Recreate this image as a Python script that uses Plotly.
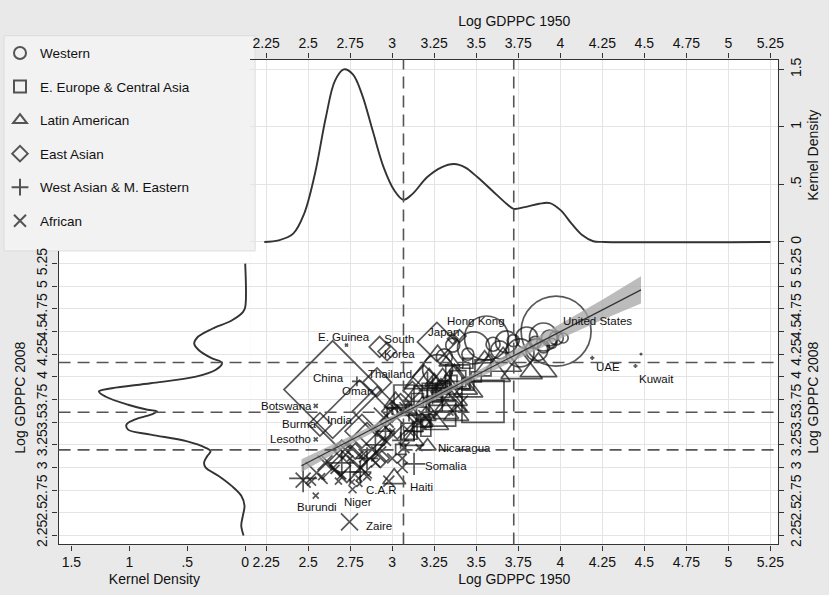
import plotly.graph_objects as go

W, H = 829, 595

# ---------------- data ----------------
# kernel density of Log GDPPC 1950 (top panel)
top_x = [2.239, 2.325, 2.411, 2.476, 2.540, 2.605, 2.659, 2.712, 2.766, 2.820, 2.884, 2.949, 3.013, 3.067,
         3.121, 3.207, 3.293, 3.368, 3.433, 3.508, 3.594, 3.680, 3.723, 3.788, 3.874, 3.938, 4.003, 4.067,
         4.132, 4.196, 4.261, 5.25]
top_d = [0, 0.014, 0.072, 0.245, 0.591, 1.082, 1.40, 1.50, 1.456, 1.283, 0.966, 0.649, 0.447, 0.366,
         0.418, 0.562, 0.649, 0.678, 0.649, 0.562, 0.447, 0.332, 0.288, 0.303, 0.332, 0.338, 0.274, 0.159,
         0.058, 0.006, 0, 0]

# kernel density of Log GDPPC 2008 (left panel)
left_y = [5.25, 4.768, 4.714, 4.622, 4.531, 4.440, 4.367, 4.294, 4.203, 4.155, 4.075, 4.002, 3.929, 3.874,
          3.838, 3.783, 3.692, 3.637, 3.619, 3.582, 3.527, 3.473, 3.418, 3.363, 3.290, 3.217, 3.181, 3.126,
          3.053, 2.998, 2.907, 2.797, 2.688, 2.579, 2.469, 2.360, 2.250]
left_d = [0, 0, 0.02, 0.117, 0.285, 0.41, 0.44, 0.40, 0.285, 0.20, 0.257, 0.425, 0.816, 1.15,
          1.263, 1.207, 1.011, 0.844, 0.76, 0.816, 0.955, 1.025, 1.011, 0.816, 0.508, 0.341, 0.299, 0.327,
          0.355, 0.341, 0.229, 0.117, 0.034, 0.006, 0.02, 0.034, 0.014]

# cut-offs (density minima)
cut_x = [3.067, 3.723]
cut_y = [4.158, 3.61, 3.194]

# regression fit and confidence band
fit_x = [2.46, 4.48]
fit_y = [3.02, 4.96]
band_x = [2.46, 2.8, 3.1, 3.4, 3.7, 4.0, 4.25, 4.48]
band_lo = [2.95, 3.30, 3.60, 3.885, 4.155, 4.42, 4.63, 4.81]
band_hi = [3.09, 3.39, 3.665, 3.955, 4.265, 4.58, 4.85, 5.11]

# Western
w_x = [3.975, 3.561, 3.484, 3.68, 3.80, 3.90, 3.935, 3.976, 4.017, 3.27, 3.31, 3.86, 3.76, 3.64, 3.72,
       3.85, 3.60, 3.95, 3.45, 3.36, 3.90]
w_y = [4.505, 4.429, 4.319, 4.385, 4.429, 4.44, 4.429, 4.429, 4.429, 4.08, 4.22, 4.297, 4.264, 4.297, 4.40,
       4.38, 4.36, 4.37, 4.25, 4.35, 4.33]
w_s = [70, 44, 32, 22, 22, 28, 16, 14, 10, 30, 16, 22, 28, 18, 12, 12, 14, 10, 12, 14, 12]
w_n = ["United States"] + [""] * 20

# E. Europe & Central Asia
ee_x = [3.54, 3.39, 3.54, 3.39, 3.07, 3.22, 3.00, 3.30, 3.25, 3.10, 3.35, 3.45, 3.30, 3.20, 3.15, 3.20,
        3.05, 3.10, 3.25, 3.30, 3.45, 3.50, 3.18, 3.15]
ee_y = [3.73, 4.00, 4.10, 3.98, 3.80, 3.85, 3.60, 3.60, 3.70, 3.40, 3.95, 4.15, 3.85, 3.50, 3.45, 3.40,
        3.20, 3.35, 3.80, 3.90, 3.92, 4.00, 3.60, 3.75]
ee_s = [42, 24, 16, 16, 20, 14, 10, 26, 16, 16, 12, 10, 14, 10, 10, 10, 10, 10, 14, 10, 12, 10, 12, 12]
ee_n = [""] * 24

# Latin American
la_x = [3.58, 3.77, 3.87, 3.66, 3.27, 3.22, 3.37, 3.33, 3.35, 3.18, 3.26, 3.20, 3.32, 3.12, 3.18, 3.29,
        3.25, 3.38, 3.02, 3.10, 3.55, 3.34, 3.21, 3.012, 3.45, 3.30]
la_y = [4.05, 4.08, 4.09, 4.15, 4.03, 3.85, 3.92, 3.78, 3.70, 3.65, 3.48, 3.57, 3.60, 3.30, 3.50, 3.88,
        3.95, 3.58, 3.72, 3.62, 4.20, 4.17, 3.235, 2.876, 3.85, 3.95]
la_s = [36, 36, 32, 32, 58, 44, 40, 34, 28, 24, 22, 18, 22, 20, 18, 18, 16, 22, 20, 16, 16, 18, 15, 20, 26, 26]
la_n = [""] * 22 + ["Nicaragua", "Haiti", "", ""]

# East Asian
ea_x = [2.646, 2.805, 3.266, 2.925, 2.97, 2.91, 2.91, 3.03, 2.82, 2.57, 3.19, 3.40, 3.36, 2.73, 2.85, 3.00,
        2.69, 2.70, 2.95, 2.93, 2.78, 3.05, 3.12]
ea_y = [3.86, 3.475, 4.385, 4.33, 4.28, 3.62, 3.94, 3.50, 3.40, 3.475, 4.00, 4.45, 4.42, 3.05, 3.28, 3.62,
        3.02, 3.20, 3.38, 3.10, 3.18, 3.70, 3.85]
ea_s = [75, 68, 30, 16, 14, 38, 22, 26, 26, 18, 18, 10, 8, 30, 30, 16, 16, 14, 12, 14, 12, 16, 14]
ea_n = ["China", "India", "Japan", "South<br>Korea", "", "", "Thailand", "", "", "Burma", "", "Hong Kong"] + [""] * 11

# West Asian & M. Eastern
wa_x = [3.21, 3.24, 3.13, 3.35, 2.81, 2.96, 3.10, 3.00, 3.30, 3.13, 2.79, 4.19, 4.447, 4.48, 3.40, 2.47,
        2.70, 2.85, 2.75, 2.90, 3.05]
wa_y = [3.90, 3.85, 3.40, 3.95, 2.95, 3.40, 3.60, 3.65, 3.75, 3.04, 3.95, 4.21, 4.12, 4.25, 4.10, 2.88,
        3.05, 3.10, 2.95, 3.25, 3.30]
wa_s = [20, 20, 14, 14, 16, 14, 12, 9, 9, 16, 7, 3, 3, 2, 5, 20, 18, 16, 16, 14, 12]
wa_n = [""] * 9 + ["Somalia", "Oman", "UAE", "Kuwait"] + [""] * 8

# African
af_x = [2.746, 2.545, 2.764, 2.805, 2.545, 2.545, 2.728, 2.55, 2.47, 2.65, 2.88, 2.81, 2.60, 2.84, 2.92,
        3.07, 3.00, 3.20, 3.16, 3.07, 2.98, 3.06, 3.10, 2.83, 2.52, 2.66, 2.70, 3.06, 2.58, 2.85, 2.68,
        2.80, 2.76, 2.75, 3.00, 3.40, 3.35, 3.35, 3.40, 2.95, 3.16, 2.90, 2.72, 2.96]
af_y = [2.40, 2.69, 2.76, 2.82, 3.31, 3.68, 4.35, 2.94, 2.86, 3.00, 3.20, 3.00, 3.05, 2.95, 3.15,
        3.22, 3.10, 3.55, 3.50, 3.67, 2.85, 3.00, 3.40, 3.15, 2.85, 2.98, 2.92, 3.10, 2.90, 2.90, 2.85,
        2.88, 2.84, 3.10, 3.40, 3.80, 4.05, 3.60, 3.70, 3.55, 3.22, 3.05, 3.20, 3.30]
af_s = [17, 6, 8, 6, 4, 4, 3, 22, 15, 24, 26, 15, 15, 13, 15, 11, 10, 15, 15, 9, 11, 11, 10, 10, 9, 9, 9,
        9, 7, 8, 7, 6, 6, 6, 6, 5, 3, 5, 17, 20, 7, 9, 11, 11]
af_n = ["Zaire", "Burundi", "Niger", "C.A.R", "Lesotho", "Botswana", "E. Guinea"] + [""] * 37

x_ticks = [2.25, 2.5, 2.75, 3, 3.25, 3.5, 3.75, 4, 4.25, 4.5, 4.75, 5, 5.25]
x_tick_text = ["2.25", "2.5", "2.75", "3", "3.25", "3.5", "3.75", "4", "4.25", "4.5", "4.75", "5", "5.25"]
dens_ticks = [0, 0.5, 1, 1.5]
dens_tick_text = ["0", ".5", "1", "1.5"]

# ---------------- style ----------------
INK = "#111111"
FONT = "Liberation Sans Narrow, Liberation Sans, Arial, sans-serif"
FONT2 = "Liberation Sans, Arial, sans-serif"

def px_x(p):
    return p / W

def px_y(p):
    return 1 - p / H

main_xd = [px_x(252), px_x(784)]
main_yd = [px_y(546), px_y(250)]
top_yd = [px_y(250), px_y(57)]
left_xd = [px_x(59), px_x(252)]

fig = go.Figure()

groups = [
    ("Western", "circle-open", w_x, w_y, w_s, w_n),
    ("E. Europe & Central Asia", "square-open", ee_x, ee_y, ee_s, ee_n),
    ("Latin American", "triangle-up-open", la_x, la_y, la_s, la_n),
    ("East Asian", "diamond-open", ea_x, ea_y, ea_s, ea_n),
    ("West Asian & M. Eastern", "cross-thin", wa_x, wa_y, wa_s, wa_n),
    ("African", "x-thin", af_x, af_y, af_s, af_n),
]

for name, sym, xs, ys, ss, ns in groups:
    fig.add_trace(go.Scatter(
        x=xs, y=ys, mode="markers", name=name, legendgroup=name,
        marker=dict(symbol=sym, size=ss, color=INK, line=dict(width=1.7, color=INK)),
        xaxis="x", yaxis="y", showlegend=True,
    ))

# confidence band and fitted line
fig.add_trace(go.Scatter(
    x=band_x + band_x[::-1], y=band_hi + band_lo[::-1], mode="lines", fill="toself",
    fillcolor="rgba(165,165,165,0.75)", line=dict(width=0), showlegend=False,
    hoverinfo="skip", xaxis="x", yaxis="y"))
fig.add_trace(go.Scatter(
    x=fit_x, y=fit_y, mode="lines", line=dict(color="#333", width=1.2),
    showlegend=False, xaxis="x", yaxis="y"))

# densities
fig.add_trace(go.Scatter(x=top_x, y=top_d, mode="lines", line=dict(color="#333", width=1.9, shape="spline"),
                         showlegend=False, xaxis="x2", yaxis="y2"))
fig.add_trace(go.Scatter(x=left_d, y=left_y, mode="lines", line=dict(color="#333", width=1.9, shape="spline"),
                         showlegend=False, xaxis="x3", yaxis="y3"))

# country labels
label_style = {
    "United States": ("left", 5, 10), "E. Guinea": ("center", -2, 8), "South<br>Korea": ("left", 2, 0),
    "Thailand": ("left", -11, 8), "Oman": ("center", 1, -10), "Botswana": ("right", -2, 0),
    "Burma": ("right", -2, 0), "India": ("center", -19, 4), "Lesotho": ("right", -3, 0),
    "Nicaragua": ("left", 8, -2), "Somalia": ("left", 9, -2), "Haiti": ("left", 14, -8),
    "C.A.R": ("left", 5, -6), "Niger": ("center", 5, -13), "Burundi": ("center", 1, -11),
    "Zaire": ("left", 14, -4), "Hong Kong": ("center", 17, 15), "Japan": ("center", 7, 10),
    "UAE": ("left", 2, -9), "Kuwait": ("left", 2, -13), "China": ("center", -4, 12),
}
annotations = []
for _, _, xs, ys, ss, ns in groups:
    for xv, yv, nm in zip(xs, ys, ns):
        if nm:
            xa, dx, dy = label_style[nm]
            annotations.append(dict(x=xv, y=yv, xref="x", yref="y", text=nm, showarrow=False,
                                    xanchor=xa, yanchor="middle", xshift=dx, yshift=dy,
                                    font=dict(family=FONT2, size=11.5, color=INK)))

# legend box and dashed cut-off lines
shapes = [dict(type="rect", xref="paper", yref="paper", x0=px_x(4), x1=px_x(257), y0=px_y(250), y1=px_y(33),
               fillcolor="#f2f2f2", line=dict(color="#dcdcdc", width=1), layer="below")]
for cx in cut_x:
    shapes.append(dict(type="line", xref="x", yref="paper", x0=cx, x1=cx, y0=px_y(546), y1=px_y(57),
                       line=dict(color="#555", width=1.6, dash="12px,7px")))
for cy in cut_y:
    shapes.append(dict(type="line", xref="paper", yref="y", x0=px_x(59), x1=px_x(784), y0=cy, y1=cy,
                       line=dict(color="#555", width=1.6, dash="12px,7px")))

tickfont = dict(family=FONT, size=14, color=INK)
titlefont = dict(family=FONT, size=14, color=INK)
grid = "#e4e4e4"
common = dict(showline=True, linecolor="#333", linewidth=1.2, ticks="outside", ticklen=5, tickcolor="#333",
              tickfont=tickfont, zeroline=False, gridcolor=grid, gridwidth=1)

fig.update_layout(
    width=W, height=H, margin=dict(l=0, r=0, t=0, b=0),
    paper_bgcolor="#e9e9e9", plot_bgcolor="white",
    showlegend=True,
    legend=dict(x=px_x(0), y=px_y(35), xanchor="left", yanchor="top", bgcolor="rgba(0,0,0,0)",
                font=dict(family=FONT2, size=13.5, color=INK), itemsizing="constant", itemwidth=30,
                tracegroupgap=13, traceorder="grouped"),
    xaxis=dict(domain=main_xd, range=[2.155, 5.297], anchor="y", tickvals=x_ticks, ticktext=x_tick_text,
               showgrid=True, title=dict(text="Log GDPPC 1950", font=titlefont, standoff=4), **common),
    yaxis=dict(domain=main_yd, range=[2.151, 5.39], anchor="x", side="right", tickvals=x_ticks,
               ticktext=x_tick_text, tickangle=-90, showgrid=True,
               title=dict(text="Log GDPPC 2008", font=titlefont, standoff=4), **common),
    xaxis2=dict(domain=main_xd, range=[2.155, 5.297], anchor="y2", side="top", tickvals=x_ticks,
                ticktext=x_tick_text, showgrid=True,
                title=dict(text="Log GDPPC 1950", font=titlefont, standoff=4), **common),
    yaxis2=dict(domain=top_yd, range=[-0.078, 1.586], anchor="x2", side="right", tickvals=dens_ticks,
                ticktext=dens_tick_text, tickangle=-90, showgrid=True,
                title=dict(text="Kernel Density", font=titlefont, standoff=4), **common),
    xaxis3=dict(domain=left_xd, range=[1.611, -0.043], anchor="y3", tickvals=dens_ticks,
                ticktext=dens_tick_text, showgrid=False,
                title=dict(text="Kernel Density", font=titlefont, standoff=4), **common),
    yaxis3=dict(domain=main_yd, range=[2.151, 5.39], anchor="x3", side="left", tickvals=x_ticks,
                ticktext=x_tick_text, tickangle=-90, showgrid=True,
                title=dict(text="Log GDPPC 2008", font=titlefont, standoff=4), **common),
    shapes=shapes, annotations=annotations,
)

fig.write_html("out.html")
